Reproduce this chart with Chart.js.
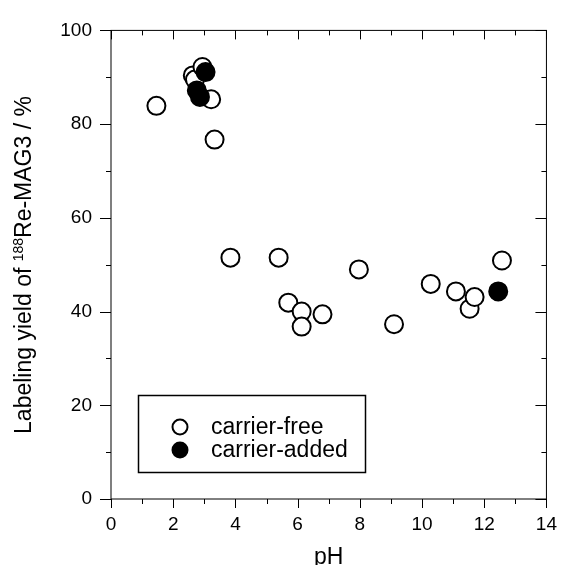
<!DOCTYPE html>
<html>
<head>
<meta charset="utf-8">
<script src="https://cdn.jsdelivr.net/npm/chart.js@4.4.1/dist/chart.umd.min.js"></script>
<style>
  body { margin: 0; background: #fff; }
  canvas { display: block; }
</style>
</head>
<body>
<canvas id="labelChart" width="571" height="565"></canvas>
<script>
// carrier-free points (pH, yield %)
const freePH    = [1.46, 2.63, 2.70, 2.94, 3.22, 3.33, 3.84, 5.39, 5.70, 6.13, 6.13, 6.80, 7.97, 9.10, 10.28, 11.09, 11.53, 11.69, 12.57];
const freeYield = [83.9, 90.4, 89.5, 92.2, 85.3, 76.7, 51.5, 51.5, 41.9, 40.0, 36.8, 39.4, 49.0, 37.3, 45.9, 44.3, 40.6, 43.1, 50.9];
// carrier-added points
const addedPH    = [2.76, 2.86, 3.04, 12.45];
const addedYield = [87.2, 85.8, 91.1, 44.3];

const xTicks = [0, 2, 4, 6, 8, 10, 12, 14];
const yTicks = [0, 20, 40, 60, 80, 100];
const legendLabels = ['carrier-free', 'carrier-added'];

const FONT = '"Liberation Sans", Arial, sans-serif';

function toPoints(xs, ys) {
    return xs.map((x, i) => ({ x: x, y: ys[i] }));
}

// frame, tick marks, axis titles and the boxed legend
const decorations = {
    id: 'decorations',
    afterDraw(chart) {
        const ctx = chart.ctx;
        const a = chart.chartArea;
        const xs = chart.scales.x, ys = chart.scales.y;
        ctx.save();
        ctx.strokeStyle = '#000';
        ctx.lineWidth = 1;
        ctx.strokeRect(a.left, a.top, a.right - a.left, a.bottom - a.top);

        ctx.beginPath();
        for (let v = 0; v <= 14; v++) {
            const px = Math.round(xs.getPixelForValue(v)) + 0.5;
            const len = v % 2 === 0 ? 9 : 5;
            ctx.moveTo(px, a.bottom); ctx.lineTo(px, a.bottom + len);   // bottom, outward
            ctx.moveTo(px, a.top); ctx.lineTo(px, a.top + len);         // top, inward
        }
        for (let v = 0; v <= 100; v += 10) {
            const py = Math.round(ys.getPixelForValue(v)) + 0.5;
            const len = v % 20 === 0 ? 11 : 5;
            ctx.moveTo(a.left, py); ctx.lineTo(a.left - len, py);       // left, outward
            ctx.moveTo(a.right, py); ctx.lineTo(a.right - len, py);     // right, inward
        }
        ctx.stroke();

        // x title
        ctx.fillStyle = '#000';
        ctx.font = '23px ' + FONT;
        ctx.textAlign = 'center';
        ctx.textBaseline = 'alphabetic';
        ctx.fillText('pH', (a.left + a.right) / 2, 564);

        // y title with superscript 188
        const p1 = 'Labeling yield of ', sup = '188', p2 = 'Re-MAG3 / %';
        ctx.font = '23px ' + FONT;
        const w1 = ctx.measureText(p1).width, w3 = ctx.measureText(p2).width;
        ctx.font = '14px ' + FONT;
        const w2 = ctx.measureText(sup).width;
        const total = w1 + w2 + w3;
        ctx.translate(31, 265);
        ctx.rotate(-Math.PI / 2);
        ctx.textAlign = 'left';
        let x0 = -total / 2;
        ctx.font = '23px ' + FONT;
        ctx.fillText(p1, x0, 0);
        ctx.font = '14px ' + FONT;
        ctx.fillText(sup, x0 + w1, -8);
        ctx.font = '23px ' + FONT;
        ctx.fillText(p2, x0 + w1 + w2, 0);
        ctx.restore();

        // legend
        ctx.save();
        ctx.strokeStyle = '#000';
        ctx.lineWidth = 1.5;
        ctx.strokeRect(138.5, 395.5, 227, 77);
        const rows = [427, 450];
        ctx.font = '23px ' + FONT;
        ctx.textBaseline = 'middle';
        ctx.textAlign = 'left';
        rows.forEach((ry, i) => {
            ctx.beginPath();
            ctx.arc(180, ry, 7.5, 0, Math.PI * 2);
            ctx.fillStyle = i === 0 ? '#fff' : '#000';
            ctx.fill();
            ctx.lineWidth = 2;
            ctx.stroke();
            ctx.fillStyle = '#000';
            ctx.fillText(legendLabels[i], 211, ry + 1);
        });
        ctx.restore();
    }
};

const ctx = document.getElementById('labelChart').getContext('2d');
new Chart(ctx, {
    type: 'scatter',
    data: {
        datasets: [
            {
                label: legendLabels[0],
                data: toPoints(freePH, freeYield),
                order: 2,   // drawn first, below the filled markers
                pointRadius: 9,
                pointBorderWidth: 2,
                pointBorderColor: '#000',
                pointBackgroundColor: '#fff'
            },
            {
                label: legendLabels[1],
                data: toPoints(addedPH, addedYield),
                order: 1,
                pointRadius: 9,
                pointBorderWidth: 2,
                pointBorderColor: '#000',
                pointBackgroundColor: '#000'
            }
        ]
    },
    options: {
        responsive: false,
        animation: false,
        events: [],
        layout: { padding: { left: 0, top: 25, right: 12, bottom: 0 } },
        plugins: {
            legend: { display: false },
            tooltip: { enabled: false }
        },
        scales: {
            x: {
                type: 'linear',
                min: 0, max: 14,
                grid: { display: false, drawTicks: false },
                border: { display: false },
                afterFit: (scale) => { scale.height = 66; },
                afterBuildTicks: (scale) => { scale.ticks = xTicks.map(v => ({ value: v })); },
                ticks: { color: '#000', padding: 14, font: { size: 19, family: FONT }, maxRotation: 0 }
            },
            y: {
                type: 'linear',
                min: 0, max: 100,
                grid: { display: false, drawTicks: false },
                border: { display: false },
                afterFit: (scale) => { scale.width = 111; },
                afterBuildTicks: (scale) => { scale.ticks = yTicks.map(v => ({ value: v })); },
                ticks: { color: '#000', padding: 19, font: { size: 19, family: FONT } }
            }
        }
    },
    plugins: [decorations]
});
</script>
</body>
</html>
